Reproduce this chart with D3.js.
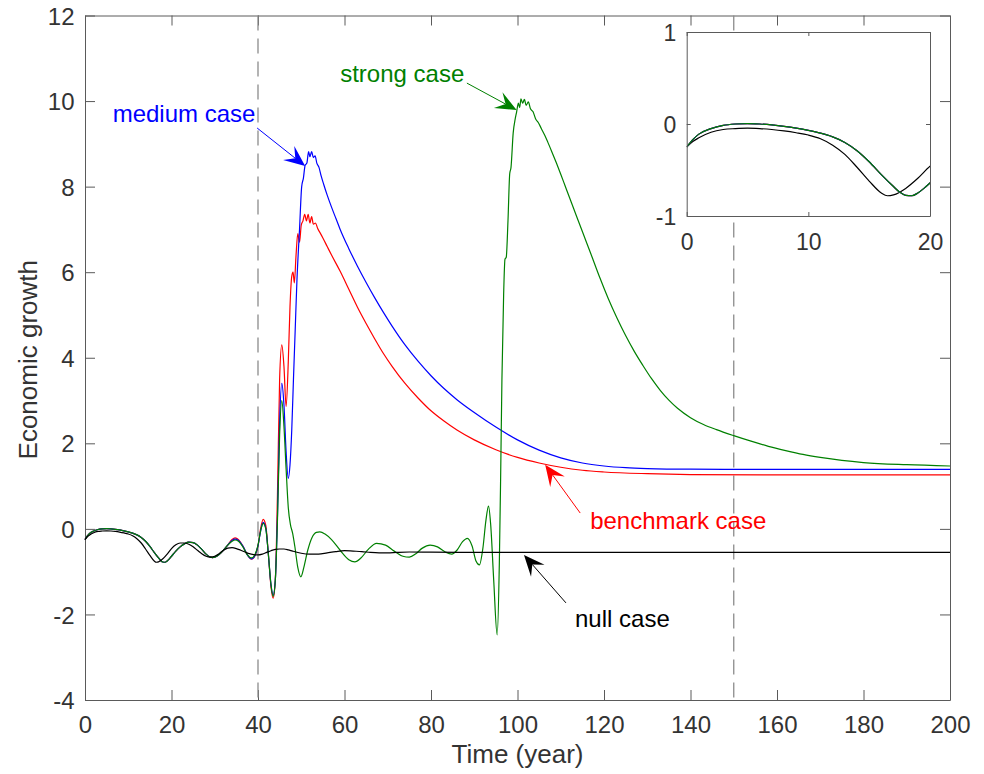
<!DOCTYPE html>
<html>
<head>
<meta charset="utf-8">
<script src="https://cdn.jsdelivr.net/npm/d3@7"></script>
<style>
  body { margin: 0; background: #fff; }
  text { font-family: "Liberation Sans", Arial, sans-serif; }
</style>
</head>
<body>
<div id="chart"></div>
<script>
// ---- data: [time (year), economic growth] ----
var earlyCommon = [[0,-0.25],[0.5,-0.17],[1,-0.11],[2,-0.05],[3,-0.015],[4,0],[5,0.005],[6,0],[7,-0.01],[8,-0.025],
  [9,-0.045],[10,-0.07],[11,-0.1],[12,-0.14],[13,-0.2],[14,-0.29],[15,-0.41],[16,-0.55],[17,-0.68],[17.5,-0.74],
  [18,-0.775],[18.5,-0.78],[19,-0.75],[19.5,-0.7],[20,-0.64],[21,-0.52],[22,-0.42],[23,-0.35],[24,-0.31],[25,-0.32],
  [26,-0.38],[27,-0.48],[28,-0.59],[29,-0.66],[29.5,-0.67],[30,-0.66],[31,-0.6],[32,-0.5],[33,-0.38]];

var nullCase = [[0,-0.25],[0.5,-0.19],[1,-0.15],[2,-0.09],[3,-0.06],[4,-0.05],[5,-0.045],[6,-0.05],[7,-0.06],[8,-0.075],
  [9,-0.095],[10,-0.12],[11,-0.16],[12,-0.23],[13,-0.33],[14,-0.47],[15,-0.62],[16,-0.75],[16.5,-0.78],[17,-0.77],
  [18,-0.7],[19,-0.59],[20,-0.46],[21,-0.37],[22,-0.33],[23,-0.33],[24,-0.36],[25,-0.42],[26,-0.5],[27,-0.58],
  [28,-0.64],[29,-0.66],[30,-0.64],[31,-0.58],[32,-0.5],[33,-0.45],[34,-0.44],[35,-0.46],[36,-0.5],[37,-0.54],
  [38,-0.58],[39,-0.6],[40,-0.61],[41,-0.59],[42,-0.55],[43,-0.51],[44,-0.48],[45,-0.47],[46,-0.47],[47,-0.49],
  [48,-0.52],[50,-0.57],[52,-0.59],[54,-0.59],[56,-0.56],[58,-0.53],[60,-0.51],[62,-0.52],[64,-0.53],[66,-0.55],
  [68,-0.56],[70,-0.56],[72,-0.55],[75,-0.54],[80,-0.545],[90,-0.55],[100,-0.55],[120,-0.55],[150,-0.55],[200,-0.55]];

var strongCase = earlyCommon.concat([[34,-0.29],[34.7,-0.26],[35.5,-0.29],[36.5,-0.42],[37.5,-0.6],[38.5,-0.68],
  [39.3,-0.6],[40,-0.38],[40.6,-0.05],[41.2,0.13],[41.8,0],[42.4,-0.6],[43,-1.3],[43.5,-1.58],[44,-1.2],[44.5,0.2],
  [45,2.2],[45.5,3.0],[46,2.4],[46.5,1.4],[47,0.5],[47.5,0.1],[48,-0.1],[48.5,-0.4],[49.2,-0.9],[49.9,-1.12],
  [50.6,-0.9],[51.5,-0.5],[52.5,-0.2],[53.5,-0.08],[54.3,-0.07],[55.5,-0.12],[57,-0.25],[59,-0.5],[61,-0.72],
  [62.4,-0.77],[63.8,-0.68],[65.5,-0.48],[67.4,-0.34],[69.5,-0.38],[71.5,-0.52],[73.5,-0.64],[75,-0.66],
  [76.5,-0.58],[78,-0.45],[79.8,-0.38],[81.5,-0.42],[83.3,-0.54],[84.8,-0.59],[86,-0.5],[87.3,-0.3],[88.4,-0.22],
  [89.5,-0.4],[90.4,-0.75],[91.2,-0.84],[92,-0.45],[92.7,0.2],[93.3,0.53],[93.8,0.1],[94.5,-1.2],[95.3,-2.48],
  [95.8,-0.8],[96.1,1.2],[96.4,3.5],[96.8,5.5],[97.1,6.3],[97.4,6.35],[97.8,7.2],[98.2,8.3],[98.5,8.45],[99,9.25],
  [99.5,9.6],[99.8,9.75],[100.2,9.95],[100.5,9.85],[100.8,10.05],[101.2,9.95],[101.6,10.04],[102,9.9],[102.5,9.98],
  [103,9.82],[103.6,9.75],[104.2,9.58],[104.8,9.5],[105.5,9.36],[106.3,9.2],[107,9.04],[108,8.8],[109,8.55],
  [110,8.29],[111,8.02],[112,7.75],[113.5,7.35],[115,6.95],[117,6.42],[119,5.88],[121,5.38],[123,4.93],[125,4.52],
  [127,4.15],[129,3.82],[131,3.51],[133,3.24],[135,3.01],[137,2.82],[140,2.6],[143,2.44],[146,2.32],[150,2.18],
  [154,2.05],[158,1.93],[162,1.83],[166,1.74],[170,1.67],[175,1.6],[180,1.55],[190,1.5],[200,1.47]]);

var mediumCase = earlyCommon.concat([[34,-0.27],[34.7,-0.24],[35.5,-0.27],[36.5,-0.4],[37.5,-0.6],[38.5,-0.7],
  [39.3,-0.62],[40,-0.4],[40.6,-0.05],[41.2,0.15],[41.8,0.02],[42.4,-0.6],[43,-1.3],[43.5,-1.55],[44,-1.2],[44.5,0.3],
  [45,2.5],[45.5,3.4],[46,2.9],[46.5,1.8],[47,1.18],[47.4,1.5],[47.8,2.3],[48.2,3.5],[48.6,4.65],[49,5.8],[49.6,7.0],
  [50.1,8.0],[50.5,8.2],[50.9,8.5],[51.3,8.55],[51.7,8.82],[52,8.7],[52.4,8.82],[52.8,8.68],[53.2,8.72],[53.6,8.55],
  [54.1,8.45],[54.6,8.25],[55.2,8.05],[56,7.8],[57,7.52],[58,7.26],[59,7.0],[61,6.55],[63,6.14],[65,5.76],
  [67,5.4],[69,5.06],[71,4.74],[74,4.3],[77,3.92],[80,3.58],[83,3.28],[86,3.02],[90,2.72],[95,2.38],[100,2.08],
  [105,1.84],[110,1.66],[115,1.54],[120,1.47],[125,1.43],[130,1.41],[140,1.395],[160,1.39],[200,1.39]]);

var benchmarkCase = earlyCommon.concat([[34,-0.25],[34.7,-0.21],[35.5,-0.25],[36.5,-0.4],[37.5,-0.6],[38.5,-0.71],
  [39.3,-0.63],[40,-0.4],[40.6,0],[41.2,0.22],[41.8,0.08],[42.4,-0.6],[43,-1.35],[43.5,-1.62],[44,-1.2],[44.5,0.8],
  [45,3.5],[45.5,4.3],[46,3.8],[46.5,2.86],[47,3.9],[47.4,5.2],[47.8,5.9],[48.1,6.0],[48.4,5.75],[48.8,6.4],
  [49.2,6.9],[49.6,6.7],[50,7.1],[50.4,7.2],[50.8,7.35],[51.2,7.2],[51.6,7.35],[52,7.15],[52.4,7.3],[52.8,7.12],
  [53.3,7.15],[53.8,7.02],[54.3,6.93],[55,6.8],[56,6.6],[57,6.4],[59,6.02],[61,5.6],[63,5.18],[65,4.8],[67,4.44],
  [69,4.1],[71,3.8],[74,3.4],[77,3.06],[80,2.76],[83,2.52],[86,2.31],[90,2.08],[95,1.85],[100,1.67],[105,1.54],
  [110,1.44],[115,1.37],[120,1.33],[130,1.29],[140,1.27],[160,1.26],[200,1.26]]);

var xTicks = [0,20,40,60,80,100,120,140,160,180,200];
var yTicks = [-4,-2,0,2,4,6,8,10,12];
var insetXTicks = [0,10,20];
var insetYTicks = [-1,0,1];
var dashedYears = [40,150];

// annotations: label, colour, text anchor point, arrow start, arrow tip (data coords)
var notes = [
  {label: "medium case",    color: "#0000ff", text: [6.4, 9.5],   from: [39.8, 9.37],  to: [50.9, 8.48]},
  {label: "strong case",    color: "#008000", text: [59.0, 10.45], from: [88.3, 10.42], to: [99.8, 9.79]},
  {label: "benchmark case", color: "#ff0000", text: [116.8, 0.0], from: [114.5, 0.37], to: [106.4, 1.5]},
  {label: "null case",      color: "#000000", text: [113.3, -2.3], from: [111.2, -1.73], to: [101.5, -0.61]}
];

var margin = {top: 15.5, right: 34, bottom: 74, left: 85},
    W = 984, H = 774,
    w = W - margin.left - margin.right,
    h = H - margin.top - margin.bottom;

var svg = d3.select("#chart").append("svg")
  .attr("width", W).attr("height", H);

var g = svg.append("g")
  .attr("transform", "translate(" + margin.left + "," + margin.top + ")");

var x = d3.scaleLinear().domain([0, 200]).range([0, w]);
var y = d3.scaleLinear().domain([-4, 12]).range([h, 0]);

var axisColor = "#5a5a5a", textColor = "#333";
var fmt = function(d) { return String(d); };

function styleAxis(sel) {
  sel.selectAll("path").attr("stroke", axisColor);
  sel.selectAll("line").attr("stroke", axisColor);
  sel.selectAll("text").attr("fill", textColor);
}

// axes, ticks point inward
g.append("g").attr("transform", "translate(0," + h + ")")
  .call(d3.axisBottom(x).tickValues(xTicks).tickFormat(fmt).tickSizeInner(-10).tickSizeOuter(0).tickPadding(16))
  .call(styleAxis).selectAll("text").style("font-size", "24px");
g.append("g")
  .call(d3.axisLeft(y).tickValues(yTicks).tickFormat(fmt).tickSizeInner(-10).tickSizeOuter(0).tickPadding(10.5))
  .call(styleAxis).selectAll("text").style("font-size", "24px").attr("dy", "0.36em");
g.append("g")
  .call(d3.axisTop(x).tickValues(xTicks).tickFormat("").tickSizeInner(-10).tickSizeOuter(0))
  .call(styleAxis);
g.append("g").attr("transform", "translate(" + w + ",0)")
  .call(d3.axisRight(y).tickValues(yTicks).tickFormat("").tickSizeInner(-10).tickSizeOuter(0))
  .call(styleAxis);

// dashed reference years
g.selectAll(".vline").data(dashedYears).enter().append("line")
  .attr("class", "vline")
  .attr("x1", function(d) { return x(d); }).attr("x2", function(d) { return x(d); })
  .attr("y1", 0).attr("y2", h)
  .attr("stroke", "#8c8c8c").attr("stroke-width", 1.3).attr("stroke-dasharray", "15,8");

// series
var series = [
  {data: benchmarkCase, color: "#ff0000"},
  {data: mediumCase, color: "#0000ff"},
  {data: strongCase, color: "#008000"},
  {data: nullCase, color: "#000000"}
];

var line = d3.line()
  .x(function(d) { return x(d[0]); })
  .y(function(d) { return y(d[1]); })
  .curve(d3.curveMonotoneX);

g.selectAll(".series").data(series).enter().append("path")
  .attr("class", "series")
  .attr("fill", "none")
  .attr("stroke", function(d) { return d.color; })
  .attr("stroke-width", 1.2)
  .attr("d", function(d) { return line(d.data); });

// annotation arrows and labels
function arrowHead(x0, y0, x1, y1, L, Wd) {
  var a = Math.atan2(y1 - y0, x1 - x0), c = Math.cos(a), s = Math.sin(a);
  function p(u, v) { return [x1 + u * c - v * s, y1 + u * s + v * c]; }
  return [p(0, 0), p(-L, Wd / 2), p(-0.6 * L, 0), p(-L, -Wd / 2)];
}

notes.forEach(function(n) {
  var x0 = x(n.from[0]), y0 = y(n.from[1]), x1 = x(n.to[0]), y1 = y(n.to[1]);
  var head = arrowHead(x0, y0, x1, y1, 21, 18);
  g.append("line")
    .attr("x1", x0).attr("y1", y0).attr("x2", head[2][0]).attr("y2", head[2][1])
    .attr("stroke", n.color).attr("stroke-width", 1);
  g.append("path")
    .attr("d", "M" + head.join("L") + "Z")
    .attr("fill", n.color);
  g.append("text")
    .attr("x", x(n.text[0])).attr("y", y(n.text[1]))
    .attr("fill", n.color)
    .style("font-size", "24px")
    .text(n.label);
});

// axis titles
svg.append("text")
  .attr("x", margin.left + w / 2).attr("y", 763)
  .attr("text-anchor", "middle").attr("fill", textColor)
  .style("font-size", "26px")
  .text("Time (year)");
svg.append("text")
  .attr("transform", "translate(37," + (margin.top + h / 2 + 2) + ") rotate(-90)")
  .attr("text-anchor", "middle").attr("fill", textColor)
  .style("font-size", "26px")
  .text("Economic growth");

// ---- inset: first 20 years ----
var inset = {left: 686.7, top: 32, width: 243.3, height: 184};
var ig = svg.append("g")
  .attr("transform", "translate(" + inset.left + "," + inset.top + ")");

var ix = d3.scaleLinear().domain([0, 20]).range([0, inset.width]);
var iy = d3.scaleLinear().domain([-1, 1]).range([inset.height, 0]);

ig.append("rect")
  .attr("width", inset.width).attr("height", inset.height)
  .attr("fill", "#fff");

svg.append("clipPath").attr("id", "insetClip")
  .append("rect").attr("width", inset.width).attr("height", inset.height);

var iline = d3.line()
  .x(function(d) { return ix(d[0]); })
  .y(function(d) { return iy(d[1]); })
  .curve(d3.curveMonotoneX);

ig.append("g").attr("clip-path", "url(#insetClip)")
  .selectAll("path").data([series[3], series[0], series[1], series[2]]).enter().append("path")
  .attr("fill", "none")
  .attr("stroke", function(d) { return d.color; })
  .attr("stroke-width", 1.2)
  .attr("d", function(d) { return iline(d.data.filter(function(p) { return p[0] <= 21; })); });

ig.append("g").attr("transform", "translate(0," + inset.height + ")")
  .call(d3.axisBottom(ix).tickValues(insetXTicks).tickFormat(fmt).tickSizeInner(-4).tickSizeOuter(0).tickPadding(18))
  .call(styleAxis).selectAll("text").style("font-size", "23px");
ig.append("g")
  .call(d3.axisLeft(iy).tickValues(insetYTicks).tickFormat(fmt).tickSizeInner(-4).tickSizeOuter(0).tickPadding(10.5))
  .call(styleAxis).selectAll("text").style("font-size", "23px").attr("dy", "0.36em");
ig.append("g")
  .call(d3.axisTop(ix).tickValues(insetXTicks).tickFormat("").tickSizeInner(-4).tickSizeOuter(0))
  .call(styleAxis);
ig.append("g").attr("transform", "translate(" + inset.width + ",0)")
  .call(d3.axisRight(iy).tickValues(insetYTicks).tickFormat("").tickSizeInner(-4).tickSizeOuter(0))
  .call(styleAxis);
</script>
</body>
</html>
